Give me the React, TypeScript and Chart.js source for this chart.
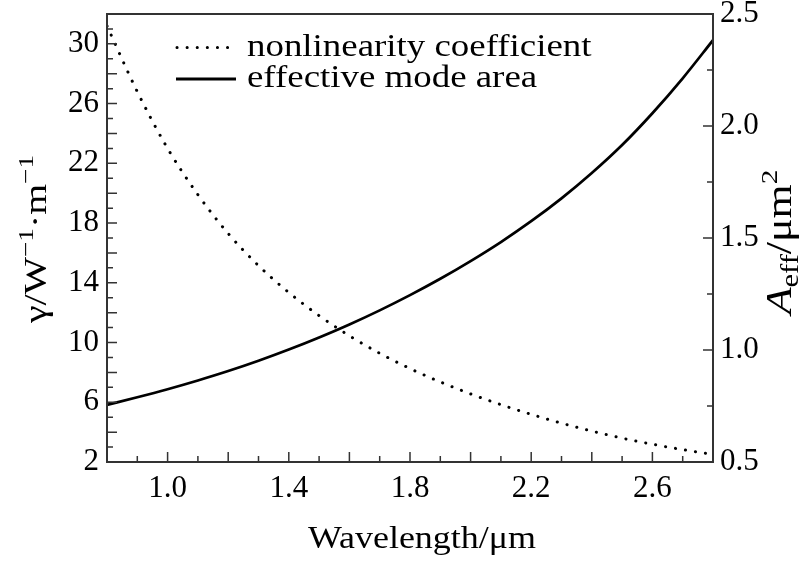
import React, { useEffect, useRef } from "react";
import { Chart, registerables } from "chart.js";

Chart.register(...registerables);

// ---- data ----
const wavelength = [0.8, 0.9, 1.0, 1.1, 1.2, 1.3, 1.4, 1.5, 1.6, 1.7, 1.8, 1.9, 2.0, 2.1, 2.2, 2.3, 2.4, 2.5, 2.6, 2.7, 2.8];
const gamma = [31.2, 26.8, 23.0, 19.9, 17.3, 15.15, 13.35, 11.8, 10.45, 9.28, 8.26, 7.36, 6.56, 5.84, 5.19, 4.6, 4.07, 3.6, 3.19, 2.83, 2.51];
const aeff = [0.755, 0.789, 0.825, 0.864, 0.906, 0.952, 1.002, 1.056, 1.114, 1.177, 1.245, 1.318, 1.397, 1.482, 1.575, 1.677, 1.79, 1.915, 2.057, 2.213, 2.383];

const xTickLabels = [1.0, 1.4, 1.8, 2.2, 2.6];
const leftTickLabels = [2, 6, 10, 14, 18, 22, 26, 30];
const rightTickLabels = [0.5, 1.0, 1.5, 2.0, 2.5];
const legendLabels = ["nonlinearity coefficient", "effective mode area"];

const FONT = '"Liberation Serif", "Times New Roman", serif';

type Seg = { t: string; size?: number; dy?: number; italic?: boolean };

function drawRich(
  ctx: CanvasRenderingContext2D,
  segs: Seg[],
  x: number,
  y: number,
  angle: number,
  align: "left" | "center",
  base = 31,
  stretch = 1.16
) {
  ctx.save();
  ctx.translate(x, y);
  ctx.rotate(angle);
  ctx.scale(stretch, 1);
  ctx.textBaseline = "alphabetic";
  ctx.textAlign = "left";
  ctx.fillStyle = "#000";
  const fontOf = (s: Seg) => `${s.italic ? "italic " : ""}${s.size ?? base}px ${FONT}`;
  let total = 0;
  for (const s of segs) {
    ctx.font = fontOf(s);
    total += ctx.measureText(s.t).width;
  }
  let cx = align === "center" ? -total / 2 : 0;
  for (const s of segs) {
    ctx.font = fontOf(s);
    ctx.fillText(s.t, cx, s.dy ?? 0);
    cx += ctx.measureText(s.t).width;
  }
  ctx.restore();
}

const decorPlugin = {
  id: "decor",
  afterDatasetsDraw(chart: any) {
    const ctx: CanvasRenderingContext2D = chart.ctx;
    const a = chart.chartArea;
    const xs = chart.scales.x;
    const yl = chart.scales.yL;
    const yr = chart.scales.yR;
    ctx.save();
    // frame
    ctx.strokeStyle = "#333";
    ctx.lineWidth = 2;
    ctx.setLineDash([]);
    ctx.strokeRect(a.left, a.top, a.right - a.left, a.bottom - a.top);
    // inward tick marks
    ctx.lineWidth = 1.5;
    ctx.beginPath();
    for (let i = 1; i < 20; i++) {
      const px = xs.getPixelForValue(0.8 + i * 0.1);
      const len = i % 2 === 0 ? 10 : 6;
      ctx.moveTo(px, a.bottom);
      ctx.lineTo(px, a.bottom - len);
    }
    for (let v = 3; v < 32; v++) {
      const py = yl.getPixelForValue(v);
      const len = v % 2 === 0 ? 10 : 6;
      ctx.moveTo(a.left, py);
      ctx.lineTo(a.left + len, py);
    }
    for (let k = 1; k < 8; k++) {
      const py = yr.getPixelForValue(0.5 + k * 0.25);
      const len = k % 2 === 0 ? 10 : 6;
      ctx.moveTo(a.right, py);
      ctx.lineTo(a.right - len, py);
    }
    ctx.stroke();

    // legend
    ctx.strokeStyle = "#000";
    ctx.lineWidth = 3;
    ctx.lineCap = "round";
    ctx.setLineDash([0.1, 10]);
    ctx.beginPath();
    ctx.moveTo(177, 47.5);
    ctx.lineTo(235, 47.5);
    ctx.stroke();
    ctx.setLineDash([]);
    ctx.lineCap = "butt";
    ctx.lineWidth = 3;
    ctx.beginPath();
    ctx.moveTo(176, 79);
    ctx.lineTo(236, 79);
    ctx.stroke();
    ctx.restore();

    drawRich(ctx, [{ t: legendLabels[0] }], 247, 56, 0, "left", 31, 1.19);
    drawRich(ctx, [{ t: legendLabels[1] }], 247, 87, 0, "left", 31, 1.19);

    // axis titles
    drawRich(ctx, [{ t: "Wavelength/μm" }], 422, 548, 0, "center");
    drawRich(
      ctx,
      [{ t: "γ/W" }, { t: "−1", size: 22, dy: -13 }, { t: "·m" }, { t: "−1", size: 22, dy: -13 }],
      46, 239, -Math.PI / 2, "center", 32, 1.24
    );
    drawRich(
      ctx,
      [{ t: "A", italic: true }, { t: "eff", size: 25, dy: 7 }, { t: "/μm" }, { t: "2", size: 24, dy: -14 }],
      791, 242, -Math.PI / 2, "center", 36, 1.22
    );
  },
};

export default function App() {
  const ref = useRef<HTMLCanvasElement>(null);
  useEffect(() => {
    const canvas = ref.current!;
    const tickFont = { family: FONT, size: 31 };
    const fixV = (w: number) => (s: any) => {
      s.width = w;
      s.paddingTop = 0;
      s.paddingBottom = 0;
    };
    const chart = new Chart(canvas, {
      type: "line",
      data: {
        datasets: [
          {
            label: legendLabels[0],
            data: wavelength.map((x, i) => ({ x, y: gamma[i] })),
            yAxisID: "yL",
            borderColor: "#000",
            borderWidth: 3,
            borderDash: [0.1, 10],
            borderCapStyle: "round",
            pointRadius: 0,
            cubicInterpolationMode: "monotone",
          },
          {
            label: legendLabels[1],
            data: wavelength.map((x, i) => ({ x, y: aeff[i] })),
            yAxisID: "yR",
            borderColor: "#000",
            borderWidth: 2.7,
            pointRadius: 0,
            cubicInterpolationMode: "monotone",
          },
        ],
      } as any,
      options: {
        animation: false,
        responsive: false,
        layout: { padding: { top: 14, left: 0, right: 0, bottom: 0 } },
        plugins: { legend: { display: false }, tooltip: { enabled: false } },
        scales: {
          x: {
            type: "linear",
            min: 0.8,
            max: 2.8,
            afterBuildTicks: (s: any) => {
              s.ticks = xTickLabels.map((v) => ({ value: v }));
            },
            afterFit: (s: any) => {
              s.height = 99;
              s.paddingLeft = 0;
              s.paddingRight = 0;
            },
            ticks: { callback: (v: any) => Number(v).toFixed(1), font: tickFont, color: "#000", padding: 8, maxRotation: 0, autoSkip: false },
            grid: { display: false, drawTicks: false },
            border: { display: false },
          },
          yL: {
            type: "linear",
            position: "left",
            min: 2,
            max: 32,
            afterBuildTicks: (s: any) => {
              s.ticks = leftTickLabels.map((v) => ({ value: v }));
            },
            afterFit: fixV(107),
            ticks: { callback: (v: any) => String(v), font: tickFont, color: "#000", padding: 8, autoSkip: false },
            grid: { display: false, drawTicks: false },
            border: { display: false },
          },
          yR: {
            type: "linear",
            position: "right",
            min: 0.5,
            max: 2.5,
            afterBuildTicks: (s: any) => {
              s.ticks = rightTickLabels.map((v) => ({ value: v }));
            },
            afterFit: fixV(91),
            ticks: { callback: (v: any) => Number(v).toFixed(1), font: tickFont, color: "#000", padding: 7, autoSkip: false },
            grid: { display: false, drawTicks: false },
            border: { display: false },
          },
        },
      } as any,
      plugins: [decorPlugin],
    });
    return () => chart.destroy();
  }, []);
  return (
    <div style={{ position: "absolute", left: 0, top: 0, width: 804, height: 561, background: "#fff" }}>
      <canvas ref={ref} width={804} height={561} style={{ width: 804, height: 561, display: "block" }} />
    </div>
  );
}
